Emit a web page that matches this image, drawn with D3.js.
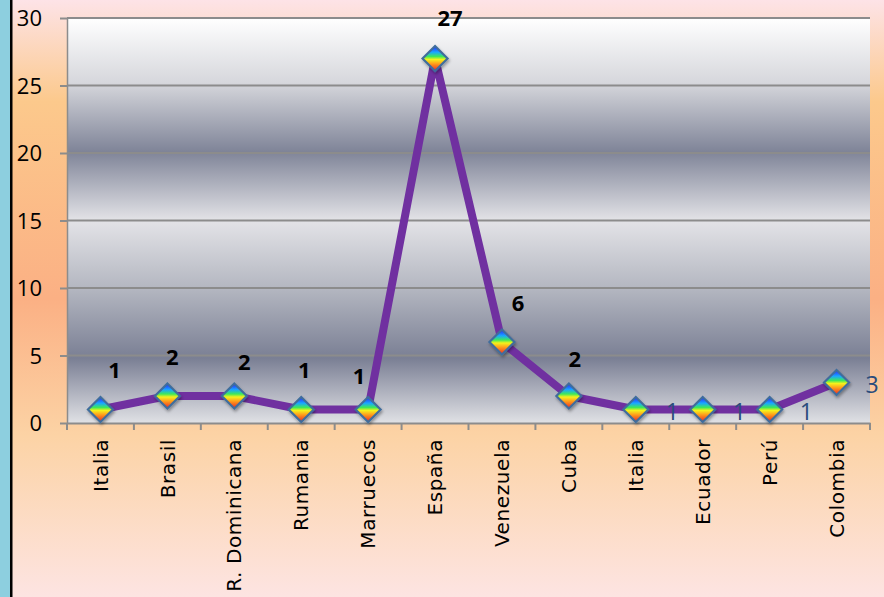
<!DOCTYPE html>
<html>
<head>
<meta charset="utf-8">
<script src="https://cdn.jsdelivr.net/npm/d3@7/dist/d3.min.js"></script>
<style>
html,body{margin:0;padding:0;background:#fff;}
svg{display:block;}
</style>
</head>
<body>
<svg id="chart" width="884" height="597"></svg>
<script>
// ---- data ----
const categories = ["Italia","Brasil","R. Dominicana","Rumania","Marruecos","España","Venezuela","Cuba","Italia","Ecuador","Perú","Colombia"];
const values = [1,2,2,1,1,27,6,2,1,1,1,3];
const yTickValues = [0,5,10,15,20,25,30];
// label placement kind per point ("above" bold black, "right" blue)
const labelKind = ["above","above","above","above","above","above","above","above","right","right","right","right"];

// ---- layout (not data) ----
const W = 884, H = 597;
const plot = {left: 67, right: 870, top: 18, bottom: 423};
const labelDx = [14, 5, 10, 3, -9, 15, 16, 6, 30, 30, 30, 29];
const labelDy = [-32, -31, -26, -32, -26, -33, -31, -29, 2, 2, 2, 2];

const svg = d3.select("#chart");
const defs = svg.append("defs");

// outer background gradient
const bg = defs.append("linearGradient").attr("id","bgGrad").attr("x1",0).attr("y1",0).attr("x2",0).attr("y2",1);
[[0,"#fde3e7"],[0.17,"#fcc98c"],[0.5,"#fbb084"],[0.73,"#fcd3a5"],[1,"#fde4e2"]]
  .forEach(([o,c]) => bg.append("stop").attr("offset",o).attr("stop-color",c));

// plot area metallic gradient
const pg = defs.append("linearGradient").attr("id","plotGrad").attr("x1",0).attr("y1",0).attr("x2",0).attr("y2",1);
[[0,"#ffffff"],[0.16,"#d6d7dc"],[0.33,"#7f8498"],[0.5,"#e3e3e7"],[0.67,"#b3b6c0"],[0.84,"#7a7f94"],[1,"#e0e1e5"]]
  .forEach(([o,c]) => pg.append("stop").attr("offset",o).attr("stop-color",c));

// rainbow marker gradient
const mg = defs.append("linearGradient").attr("id","markGrad").attr("x1",0).attr("y1",0).attr("x2",0).attr("y2",1);
[[0,"#2a1cff"],[0.25,"#19a8ff"],[0.42,"#3ee85a"],[0.54,"#f4f21a"],[0.7,"#ffa21a"],[1,"#e8202a"]]
  .forEach(([o,c]) => mg.append("stop").attr("offset",o).attr("stop-color",c));

const shadow = defs.append("filter").attr("id","shadow").attr("x","-50%").attr("y","-50%").attr("width","200%").attr("height","200%");
shadow.append("feDropShadow").attr("dx",1).attr("dy",2).attr("stdDeviation",1.5).attr("flood-color","#000").attr("flood-opacity",0.35);

svg.append("rect").attr("x",0).attr("y",0).attr("width",W).attr("height",H).attr("fill","url(#bgGrad)");
svg.append("rect").attr("x",0).attr("y",0).attr("width",10).attr("height",H).attr("fill","#8dcfdf");
svg.append("rect").attr("x",10).attr("y",0).attr("width",2.5).attr("height",H).attr("fill","#000");

// scales
const idx = d3.range(categories.length);
const x = d3.scaleBand().domain(idx).range([plot.left, plot.right]).padding(0);
const y = d3.scaleLinear().domain([0,30]).range([plot.bottom, plot.top]);
const cx = i => x(i) + x.bandwidth()/2;

svg.append("rect").attr("x",plot.left).attr("y",plot.top)
  .attr("width",plot.right-plot.left).attr("height",plot.bottom-plot.top)
  .attr("fill","url(#plotGrad)");

// gridlines
svg.append("g").selectAll("line").data(yTickValues.filter(v => v>0)).join("line")
  .attr("x1",plot.left).attr("x2",plot.right)
  .attr("y1",d=>y(d)).attr("y2",d=>y(d))
  .attr("stroke","#8c8c8c").attr("stroke-width",2);

// y axis
const yAxis = svg.append("g").attr("transform",`translate(${plot.left},0)`)
  .call(d3.axisLeft(y).tickValues(yTickValues).tickSize(7).tickPadding(18).tickSizeOuter(0));
yAxis.select(".domain").attr("stroke","#8c8c8c").attr("stroke-width",1.5);
yAxis.selectAll(".tick line").attr("stroke","#8c8c8c").attr("stroke-width",2);
yAxis.selectAll(".tick text").attr("fill","#000").attr("font-family","'Open Sans', 'Noto Sans', sans-serif")
  .attr("font-size",22).attr("dy","0.36em");

// x axis
const xAxis = svg.append("g").attr("transform",`translate(0,${plot.bottom})`)
  .call(d3.axisBottom(x).tickFormat(i => categories[i]).tickSize(0).tickSizeOuter(0));
xAxis.select(".domain").attr("stroke","#8c8c8c").attr("stroke-width",2);
xAxis.selectAll(".tick text")
  .attr("font-family","DejaVu Sans, sans-serif").attr("font-size",20).attr("fill","#000")
  .attr("letter-spacing","0.6px")
  .attr("text-anchor","end").attr("transform","rotate(-90)")
  .attr("x",-16).attr("y",0).attr("dy","0.36em");
// x tick marks at band boundaries
svg.append("g").selectAll("line").data(d3.range(categories.length+1)).join("line")
  .attr("x1",i => plot.left + i*x.bandwidth()).attr("x2",i => plot.left + i*x.bandwidth())
  .attr("y1",plot.bottom).attr("y2",plot.bottom+7)
  .attr("stroke","#8c8c8c").attr("stroke-width",2);

// line
const line = d3.line().x((d,i)=>cx(i)).y(d=>y(d));
svg.append("path").datum(values).attr("d",line)
  .attr("fill","none").attr("stroke","#7030a0").attr("stroke-width",8).attr("stroke-linejoin","round");

// markers
const r = 12.5;
svg.append("g").selectAll("path").data(values).join("path")
  .attr("d",(d,i)=>`M${cx(i)},${y(d)-r}L${cx(i)+r},${y(d)}L${cx(i)},${y(d)+r}L${cx(i)-r},${y(d)}Z`)
  .attr("fill","url(#markGrad)").attr("stroke","#3f6d9c").attr("stroke-width",2.2)
  .attr("filter","url(#shadow)");

// labels
svg.append("g").selectAll("text").data(values).join("text")
  .attr("x",(d,i)=>cx(i)+labelDx[i])
  .attr("y",(d,i)=>y(d)+labelDy[i])
  .attr("text-anchor",(d,i)=>labelKind[i]==="above"?"middle":"start")
  .attr("dy",(d,i)=>labelKind[i]==="above"?0:"0.36em")
  .attr("font-family","'Open Sans', 'Noto Sans', sans-serif")
  .attr("font-size",(d,i)=>labelKind[i]==="above"?22:23)
  .attr("font-weight",(d,i)=>labelKind[i]==="above"?"bold":"normal")
  .attr("fill",(d,i)=>labelKind[i]==="above"?"#000":"#2a4c7c")
  .text(d=>d);
</script>
</body>
</html>
